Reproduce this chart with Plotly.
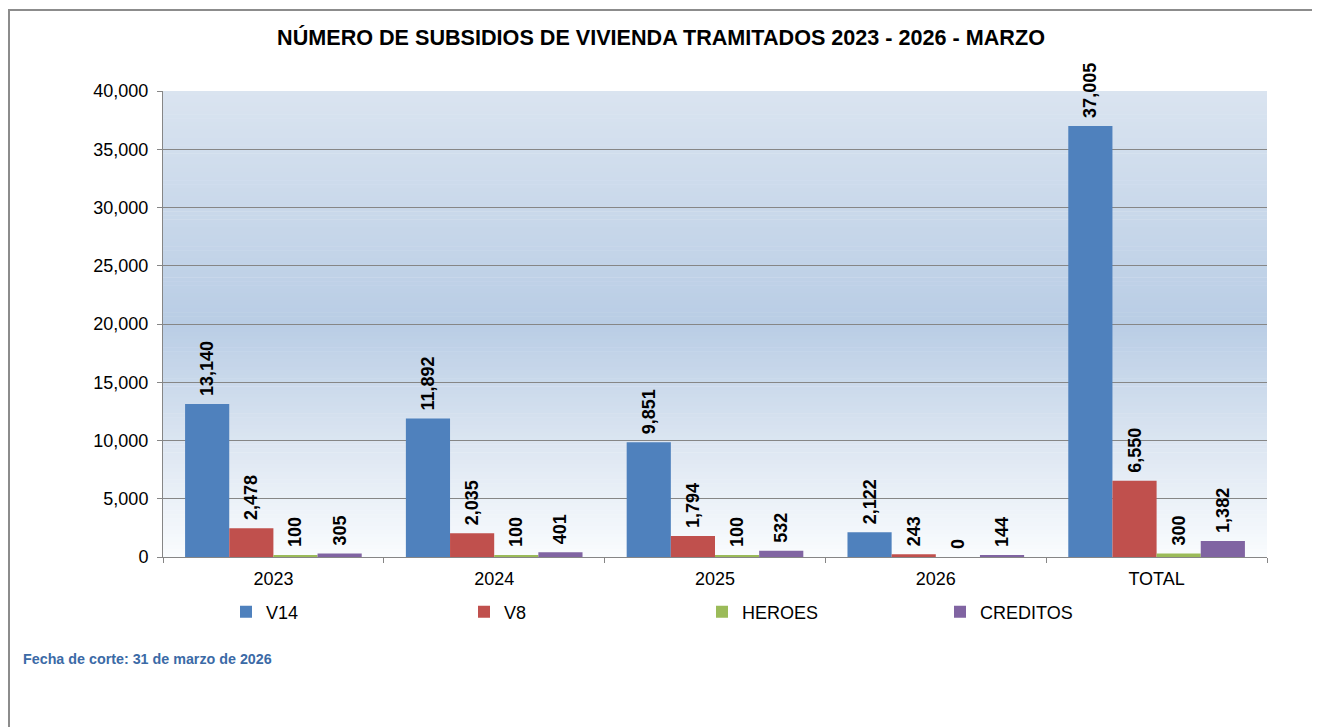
import plotly.graph_objects as go

categories = ["2023", "2024", "2025", "2026", "TOTAL"]
v14 = [13140, 11892, 9851, 2122, 37005]
v8 = [2478, 2035, 1794, 243, 6550]
heroes = [100, 100, 100, 0, 300]
creditos = [305, 401, 532, 144, 1382]

series_names = ["V14", "V8", "HEROES", "CREDITOS"]
series_values = [v14, v8, heroes, creditos]
series_colors = ["#4f81bd", "#c0504d", "#9bbb59", "#8064a2"]

title_text = "NÚMERO DE SUBSIDIOS DE VIVIENDA TRAMITADOS 2023 - 2026 - MARZO"
footnote_text = "Fecha de corte: 31 de marzo de 2026"

FONT = "Liberation Sans, Arial, sans-serif"

fig = go.Figure()
for name, vals, col in zip(series_names, series_values, series_colors):
    fig.add_trace(go.Bar(
        x=categories, y=vals, name=name,
        marker=dict(color=col, line=dict(width=0)),
        text=["\u00a0" + f"{v:,}" for v in vals],
        textposition="outside", textangle=-90,
        textfont=dict(family=FONT, size=18, color="#000000", weight="bold"),
        constraintext="none", cliponaxis=False,
    ))

# gradient background for plot area
stops = [(0.0, (218, 228, 240)), (0.5, (185, 205, 229)), (0.75, (219, 229, 241)), (1.0, (250, 252, 254))]

def col_at(t):
    for (t0, c0), (t1, c1) in zip(stops[:-1], stops[1:]):
        if t0 <= t <= t1:
            f = (t - t0) / (t1 - t0) if t1 > t0 else 0
            return "rgb(%d,%d,%d)" % tuple(round(a + (b - a) * f) for a, b in zip(c0, c1))
    return "rgb(%d,%d,%d)" % stops[-1][1]

shapes = []
N = 120
for i in range(N):
    t = (i + 0.5) / N  # from top
    shapes.append(dict(type="rect", xref="x domain", yref="y domain",
                       x0=0, x1=1, y0=1 - (i + 1) / N - 0.001, y1=1 - i / N,
                       fillcolor=col_at(t), line=dict(width=0), layer="below"))

# page has an 8px body margin: figure origin sits at page (8, 8)
OFF = 8
W, H = 1320 - OFF, 727 - OFF
L, R, T, B = 163, 1267, 91, 557   # plot area in page pixels
pw, ph = R - L, B - T

def px(x):
    return (x - L) / pw

def py(y):
    return (B - y) / ph

# outer border
shapes.append(dict(type="rect", xref="paper", yref="paper",
                   x0=px(9), x1=px(1313), y0=py(780), y1=py(10),
                   line=dict(color="#8c8c8c", width=2), fillcolor="rgba(0,0,0,0)", layer="above"))

fig.update_layout(
    width=W, height=H,
    margin=dict(l=L - OFF, r=W - (R - OFF), t=T - OFF, b=H - (B - OFF), pad=0),
    paper_bgcolor="#ffffff", plot_bgcolor="rgba(0,0,0,0)",
    font=dict(family=FONT, size=18, color="#000000"),
    title=dict(text=title_text, x=px(661), xref="paper", xanchor="center",
               y=1 - (37 - OFF) / H, yref="container", yanchor="middle",
               font=dict(family=FONT, size=21.6, color="#000000", weight="bold")),
    barmode="group", bargap=0.2, bargroupgap=0,
    xaxis=dict(showline=True, linecolor="#868686", linewidth=1,
               ticks="outside", tickson="boundaries", ticklen=5, tickcolor="#868686",
               ticklabelstandoff=5,
               tickfont=dict(family=FONT, size=18, color="#000000"), showgrid=False),
    yaxis=dict(range=[0, 40000], dtick=5000, tickformat=",",
               showline=True, linecolor="#868686", linewidth=1,
               ticks="outside", ticklen=5, tickcolor="#868686",
               ticklabelstandoff=5,
               showgrid=True, gridcolor="#868686", gridwidth=1,
               tickfont=dict(family=FONT, size=18, color="#000000"), zeroline=False),
    legend=dict(orientation="h", x=px(226), xanchor="left", y=py(612), yanchor="middle",
                entrywidth=193, entrywidthmode="pixels",
                font=dict(family=FONT, size=18, color="#000000"),
                bgcolor="rgba(0,0,0,0)", traceorder="normal"),
    shapes=shapes,
    annotations=[dict(text=footnote_text, xref="paper", yref="paper",
                      x=px(21), y=py(659), xanchor="left", yanchor="middle", showarrow=False,
                      font=dict(family=FONT, size=14.3, color="#3b6aa6", weight="bold"))],
)

fig.write_html("out.html")
